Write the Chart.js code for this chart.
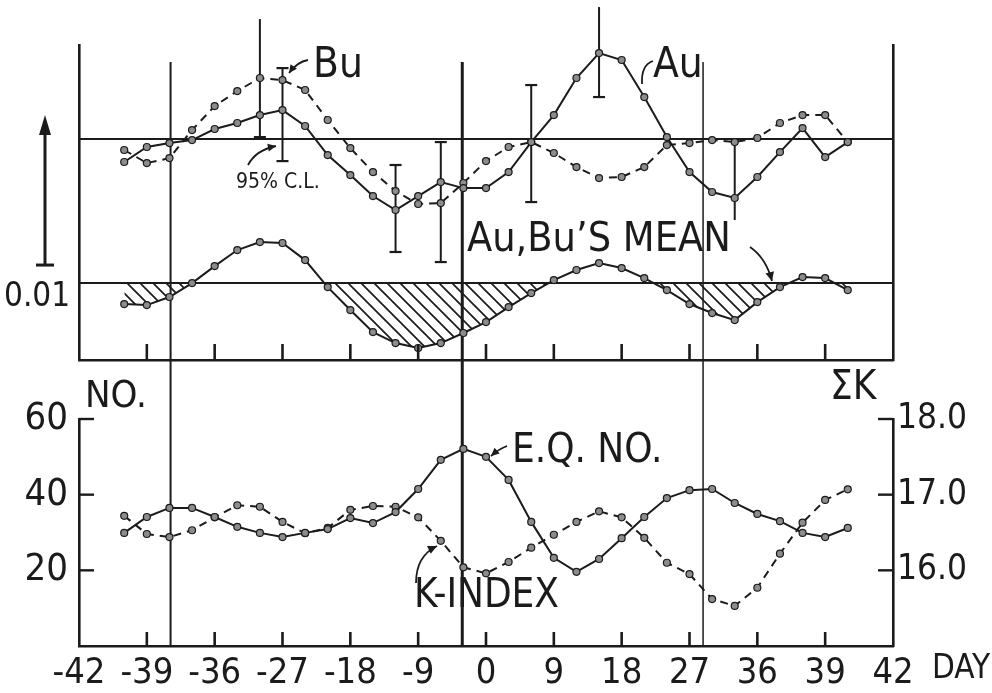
<!DOCTYPE html>
<html>
<head>
<meta charset="utf-8">
<script src="https://cdn.jsdelivr.net/npm/chart.js@4.4.0/dist/chart.umd.min.js"></script>
<style>
  html, body { margin: 0; padding: 0; background: #fff; }
  #wrap { position: relative; width: 992px; height: 693px; overflow: hidden; }
  canvas { position: absolute; left: 0; }
  #topPanel { top: 0; }
  #bottomPanel { top: 365px; }
</style>
</head>
<body>
<div id="wrap">
  <canvas id="topPanel" width="992" height="365" style="width:992px;height:365px"></canvas>
  <canvas id="bottomPanel" width="992" height="328" style="width:992px;height:328px"></canvas>
</div>
<script>
// x axis runs in tick units (0..12), one label per tick
const DAY_LABELS = ["-42", "-39", "-36", "-27", "-18", "-9", "0", "9", "18", "27", "36", "39", "42"];
// samples sit every third of a tick interval, the first one 2/3 in
const FIRST_THIRD = 2;

// upper panel, deviations in units of 0.001 (scale bar = 0.01)
const AU = [-1.53, -0.53, -0.27, -0.07, 0.67, 1.07, 1.60, 1.93, 0.87, -1.07, -2.40, -3.80, -4.73, -3.80, -2.87, -3.27, -3.27,
  -2.20, -0.20, 1.60, 4.07, 5.73, 5.27, 2.80, 0.13, -2.20, -3.53, -3.93, -2.53, -0.87, 0.73, -1.20, -0.20];
const BU = [-0.73, -1.60, -1.27, 0.60, 2.20, 3.20, 4.07, 3.93, 3.27, 1.27, -0.60, -2.20, -3.47, -4.33, -4.27, -2.93, -1.47,
  -0.53, -0.20, -0.93, -1.87, -2.60, -2.53, -1.87, -0.40, -0.27, -0.07, -0.20, 0.07, 1.07, 1.60, 1.60, -0.20];
const MEAN = [-1.40, -1.47, -0.93, 0.00, 1.13, 2.20, 2.73, 2.67, 1.53, -0.27, -1.80, -3.27, -4.00, -4.33, -4.00, -3.33, -2.60,
  -1.60, -0.67, 0.20, 0.87, 1.33, 1.00, 0.33, -0.47, -1.40, -2.00, -2.47, -1.27, -0.27, 0.40, 0.33, -0.47];
const MEAN_BASE = -9.6;           // where the mean curve's zero line sits
const TOP_RANGE = [-14.73, 6.27];

// 95% confidence bars: sample index, low, high
const ERR_AT = [6, 7, 12, 14, 18, 21, 27];
const ERR_LOW = [0.13, -1.47, -7.53, -8.2, -4.2, 2.8, -5.4];
const ERR_HIGH = [8.0, 4.73, -1.73, -0.2, 3.6, 8.8, -0.2];
const ERR_CAPS = [true, true, true, true, true, true, false];

const SCALE_BAR_FROM = -8.4;
const SCALE_BAR = 10;             // 0.01

// lower panel
const EQ_NO = [29.9, 34.1, 36.5, 36.5, 34.1, 31.5, 29.9, 28.8, 29.9, 30.9, 33.8, 32.5, 35.4, 41.5, 49.2, 52.1, 50.0,
  43.9, 32.8, 23.3, 19.6, 23.0, 28.5, 34.1, 39.1, 41.2, 41.5, 37.8, 34.9, 33.0, 29.9, 28.8, 31.2];
const K_INDEX = [16.72, 16.48, 16.44, 16.53, 16.70, 16.86, 16.84, 16.64, 16.49, 16.56, 16.80, 16.85, 16.84, 16.70, 16.39,
  16.04, 15.96, 16.11, 16.30, 16.47, 16.64, 16.78, 16.70, 16.43, 16.10, 15.95, 15.62, 15.53, 15.77, 16.22, 16.63, 16.93, 17.07];

// vertical guide lines (tick units) and their widths
const MARKERS = [1.35, 5.65, 9.2];
const MARKER_W = [2, 3, 1.5];
const MARKER_TOP = 5.13;

const INK = "#1b1b1b";
const FONT = "'DejaVu Sans Condensed', 'Liberation Sans Narrow', 'DejaVu Sans', sans-serif";
const BOTTOM_TOP = 365;   // page offset of the lower canvas

const dayX = (j) => (FIRST_THIRD + j) / 3;
const toPoints = (vals, shift = 0) => vals.map((v, j) => ({ x: dayX(j), y: v + shift }));

function seg(ctx, x1, y1, x2, y2, w) {
  ctx.save();
  ctx.strokeStyle = INK;
  ctx.lineWidth = w;
  ctx.beginPath();
  ctx.moveTo(x1, y1);
  ctx.lineTo(x2, y2);
  ctx.stroke();
  ctx.restore();
}

function curvedArrow(ctx, x1, y1, cx, cy, x2, y2, head) {
  ctx.save();
  ctx.strokeStyle = INK;
  ctx.fillStyle = INK;
  ctx.lineWidth = 1.8;
  ctx.beginPath();
  ctx.moveTo(x1, y1);
  ctx.quadraticCurveTo(cx, cy, x2, y2);
  ctx.stroke();
  if (head) {
    const a = Math.atan2(y2 - cy, x2 - cx);
    ctx.beginPath();
    ctx.moveTo(x2, y2);
    ctx.lineTo(x2 - head * Math.cos(a - 0.45), y2 - head * Math.sin(a - 0.45));
    ctx.lineTo(x2 - head * Math.cos(a + 0.45), y2 - head * Math.sin(a + 0.45));
    ctx.closePath();
    ctx.fill();
  }
  ctx.restore();
}

function text(ctx, str, x, y, size) {
  ctx.save();
  ctx.fillStyle = INK;
  ctx.font = `${size}px ${FONT}`;
  ctx.textAlign = "left";
  ctx.textBaseline = "middle";
  ctx.fillText(str, x, y);
  ctx.restore();
}

function hatch() {
  const s = 13;
  const c = document.createElement("canvas");
  c.width = s;
  c.height = s;
  const g = c.getContext("2d");
  g.strokeStyle = INK;
  g.lineWidth = 1.7;
  g.beginPath();
  [-s, 0, s].forEach((o) => {
    g.moveTo(o - 1, -1);
    g.lineTo(o + s + 1, s + 1);
  });
  g.stroke();
  return g.createPattern(c, "repeat");
}

const pointStyle = {
  borderColor: INK,
  borderWidth: 2,
  pointRadius: 3.5,
  pointBackgroundColor: "#8c8c8c",
  pointBorderColor: INK,
  pointBorderWidth: 1.2,
  tension: 0,
  clip: false,
};

function flatAxis(extra) {
  return Object.assign({
    display: true,
    grid: { display: false, drawTicks: false },
    border: { display: true, color: INK, width: 2.6 },
  }, extra);
}

// ---------- upper panel ----------
const topDatasets = [
  Object.assign({ data: toPoints(AU) }, pointStyle),
  Object.assign({ data: toPoints(BU), borderDash: [8, 6] }, pointStyle),
  Object.assign({
    data: toPoints(MEAN, MEAN_BASE),
    fill: { target: { value: MEAN_BASE }, above: "rgba(0,0,0,0)", below: hatch() },
  }, pointStyle),
];
ERR_AT.forEach((j, i) => {
  topDatasets.push({
    data: [{ x: dayX(j), y: ERR_LOW[i] }, { x: dayX(j), y: ERR_HIGH[i] }],
    borderColor: INK,
    borderWidth: 2,
    pointStyle: "line",
    pointRadius: ERR_CAPS[i] ? 6 : 0,
    pointBorderColor: INK,
    pointBorderWidth: 2.2,
    clip: false,
  });
});

const topDecor = {
  id: "topDecor",
  beforeDatasetsDraw(chart) {
    const { ctx, chartArea: a, scales: { x, y } } = chart;
    [0, MEAN_BASE].forEach((v) => seg(ctx, a.left, y.getPixelForValue(v), a.right, y.getPixelForValue(v), 2));
    MARKERS.forEach((m, i) => {
      const px = x.getPixelForValue(m);
      seg(ctx, px, y.getPixelForValue(MARKER_TOP), px, chart.height, MARKER_W[i]);
    });
  },
  afterDraw(chart) {
    const { ctx, chartArea: a, scales: { x, y } } = chart;
    for (let v = 1; v < DAY_LABELS.length - 1; v++) {
      const px = x.getPixelForValue(v);
      seg(ctx, px, a.bottom, px, a.bottom - 16, 2.6);
    }
    // 0.01 scale bar
    const bx = 45;
    const y0 = y.getPixelForValue(SCALE_BAR_FROM);
    const y1 = y.getPixelForValue(SCALE_BAR_FROM + SCALE_BAR);
    seg(ctx, bx, y0, bx, y1 + 14, 3);
    seg(ctx, bx - 9, y0, bx + 9, y0, 3);
    ctx.save();
    ctx.fillStyle = INK;
    ctx.beginPath();
    ctx.moveTo(bx, y1);
    ctx.lineTo(bx - 6, y1 + 20);
    ctx.lineTo(bx + 6, y1 + 20);
    ctx.closePath();
    ctx.fill();
    ctx.restore();
    text(ctx, "0.01", 4, 297, 33);

    text(ctx, "Bu", 313, 66, 42);
    curvedArrow(ctx, 308, 60, 297, 62, 289, 73, 9);
    text(ctx, "95% C.L.", 236, 183, 21);
    curvedArrow(ctx, 248, 165, 256, 150, 276, 146, 9);
    text(ctx, "Au", 653, 66, 42);
    curvedArrow(ctx, 642, 84, 641, 65, 653, 61, 0);
    text(ctx, "Au,Bu\u2019S MEAN", 467, 240, 41);
    curvedArrow(ctx, 750, 247, 766, 258, 772, 281, 10);
  },
};

new Chart(document.getElementById("topPanel"), {
  type: "line",
  data: { datasets: topDatasets },
  options: {
    responsive: false,
    animation: false,
    events: [],
    layout: { autoPadding: false, padding: { left: 79, right: 99, top: 45, bottom: 5 } },
    plugins: { legend: { display: false }, tooltip: { enabled: false } },
    scales: {
      x: flatAxis({
        type: "linear", min: 0, max: DAY_LABELS.length - 1,
        ticks: { display: false },
        afterFit: (s) => { s.height = 0; },
      }),
      y: flatAxis({
        min: TOP_RANGE[0], max: TOP_RANGE[1],
        ticks: { display: false },
        afterFit: (s) => { s.width = 0; },
      }),
      yR: flatAxis({
        position: "right", min: TOP_RANGE[0], max: TOP_RANGE[1],
        ticks: { display: false },
        afterFit: (s) => { s.width = 0; },
      }),
    },
  },
  plugins: [topDecor],
});

// ---------- lower panel ----------
const bottomDecor = {
  id: "bottomDecor",
  beforeDatasetsDraw(chart) {
    const { ctx, chartArea: a, scales: { x } } = chart;
    MARKERS.forEach((m, i) => {
      const px = x.getPixelForValue(m);
      seg(ctx, px, 0, px, a.bottom, MARKER_W[i]);
    });
  },
  afterDraw(chart) {
    const { ctx, chartArea: a, scales: { x, y, yK } } = chart;
    const o = BOTTOM_TOP;
    for (let v = 1; v < DAY_LABELS.length - 1; v++) {
      const px = x.getPixelForValue(v);
      seg(ctx, px, a.bottom, px, a.bottom - 14, 2.6);
    }
    [20, 40, 60].forEach((v) => {
      const py = y.getPixelForValue(v);
      seg(ctx, a.left, py, a.left + 15, py, 2.4);
    });
    [16, 17, 18].forEach((v) => {
      const py = yK.getPixelForValue(v);
      seg(ctx, a.right - 15, py, a.right, py, 2.4);
    });
    text(ctx, "NO.", 85, 397 - o, 38);
    text(ctx, "\u03A3K", 830, 389 - o, 40);
    text(ctx, "E.Q. NO.", 512, 452 - o, 40);
    curvedArrow(ctx, 507, 446 - o, 499, 449 - o, 491, 456 - o, 9);
    text(ctx, "K-INDEX", 414, 597 - o, 40);
    curvedArrow(ctx, 416, 583 - o, 416, 556 - o, 437, 546 - o, 10);
    text(ctx, "DAY", 932, 669 - o, 33);
  },
};

new Chart(document.getElementById("bottomPanel"), {
  type: "line",
  data: {
    datasets: [
      Object.assign({ data: toPoints(EQ_NO), yAxisID: "y" }, pointStyle),
      Object.assign({ data: toPoints(K_INDEX), yAxisID: "yK", borderDash: [8, 6] }, pointStyle),
    ],
  },
  options: {
    responsive: false,
    animation: false,
    events: [],
    layout: { autoPadding: false, padding: { left: 0, right: 0, top: 419 - BOTTOM_TOP, bottom: 0 } },
    plugins: { legend: { display: false }, tooltip: { enabled: false } },
    scales: {
      x: flatAxis({
        type: "linear", min: 0, max: DAY_LABELS.length - 1,
        ticks: {
          stepSize: 1, autoSkip: false, maxRotation: 0, padding: 10, color: INK,
          font: { family: FONT, size: 36, lineHeight: 1 },
          callback: (v) => DAY_LABELS[v],
        },
        afterFit: (s) => { s.height = 693 - 646; },
      }),
      y: flatAxis({
        min: 0, max: 60,
        ticks: {
          stepSize: 20, padding: 11, color: INK,
          font: { family: FONT, size: 38 },
          callback: (v) => (v === 0 ? "" : v),
        },
        afterFit: (s) => { s.width = 79; },
      }),
      yK: flatAxis({
        position: "right", min: 15, max: 18,
        ticks: {
          stepSize: 1, padding: 4, color: INK,
          font: { family: FONT, size: 35 },
          callback: (v) => (v === 15 ? "" : v.toFixed(1)),
        },
        afterFit: (s) => { s.width = 99; },
      }),
    },
  },
  plugins: [bottomDecor],
});
</script>
